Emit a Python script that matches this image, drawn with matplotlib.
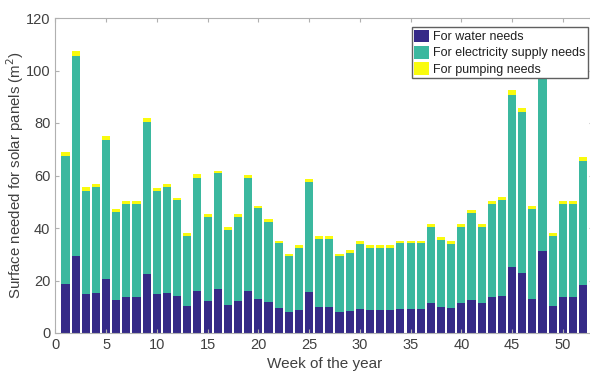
import numpy as np
import matplotlib
matplotlib.use("Agg")
import matplotlib.pyplot as plt

plt.rcParams['font.family'] = ['Liberation Sans', 'DejaVu Sans']

weeks = np.arange(1, 53)
# stacked tops
water_top = [18.6, 29.2, 14.9, 15.4, 20.5, 12.6, 13.7, 13.7, 22.4, 14.9,
             15.4, 14.0, 10.4, 16.0, 12.1, 16.7, 10.7, 12.1, 16.0, 13.0,
             11.7, 9.4, 8.0, 8.8, 15.8, 9.8, 9.8, 8.0, 8.5, 9.2,
             8.9, 8.9, 8.8, 9.3, 9.3, 9.3, 11.3, 9.8, 9.4, 11.3,
             12.6, 11.3, 13.6, 14.1, 25.1, 23.0, 13.0, 31.4, 10.3, 13.6,
             13.6, 18.3]
elec_top = [67.6, 105.6, 54.2, 55.5, 73.7, 46.0, 49.3, 49.3, 80.4, 54.1,
            55.5, 50.5, 37.1, 59.1, 44.2, 60.8, 39.2, 44.2, 59.1, 47.5,
            42.4, 34.1, 29.2, 32.4, 57.7, 35.9, 35.9, 29.2, 30.6, 34.0,
            32.5, 32.5, 32.4, 34.1, 34.1, 34.1, 40.5, 35.6, 34.0, 40.5,
            45.7, 40.5, 49.2, 50.7, 90.7, 84.1, 47.4, 112.0, 37.1, 49.2,
            49.2, 65.7]
pump_top = [68.9, 107.5, 55.5, 56.8, 75.2, 47.2, 50.2, 50.2, 82.0, 55.4,
            56.8, 51.5, 38.1, 60.4, 45.4, 61.9, 40.2, 45.4, 60.2, 48.5,
            43.6, 35.2, 30.1, 33.4, 58.8, 36.8, 36.8, 30.1, 31.6, 35.0,
            33.5, 33.5, 33.4, 35.2, 35.2, 35.2, 41.5, 36.6, 35.1, 41.5,
            46.7, 41.5, 50.2, 51.7, 92.5, 85.7, 48.5, 114.0, 38.1, 50.2,
            50.2, 67.0]

water = np.array(water_top)
electricity = np.array(elec_top) - water
pumping = np.array(pump_top) - np.array(elec_top)

c_blue = '#352a87'
c_teal = '#3bb89f'
c_yellow = '#f9fb0e'
txt = '#404040'

fig = plt.figure(figsize=(5.9, 3.72), dpi=100)
ax = fig.add_axes([55.3/590, 39/372, 538/590, 315/372])

ax.bar(weeks, water, 0.8, color=c_blue, label='For water needs')
ax.bar(weeks, electricity, 0.8, bottom=water, color=c_teal,
       label='For electricity supply needs')
ax.bar(weeks, pumping, 0.8, bottom=water + electricity, color=c_yellow,
       label='For pumping needs')

ax.set_xlim(0, 53)
ax.set_ylim(0, 120)
ax.set_xticks(np.arange(0, 55, 5))
ax.set_yticks(np.arange(0, 121, 20))
ax.tick_params(direction='in', top=True, right=True, length=3,
               colors='#b0b0b0', labelcolor=txt, labelsize=10.5)
for s in ax.spines.values():
    s.set_color('#b0b0b0')
    s.set_linewidth(0.8)

ax.set_xlabel('Week of the year', fontsize=11, color=txt, labelpad=4)
ax.set_ylabel('Surface needed for solar panels (m$^2$)', fontsize=10.8,
              color=txt)
ax.yaxis.set_label_coords(-0.054, 0.5)

leg = ax.legend(loc='upper right', bbox_to_anchor=(0.99, 0.971),
                borderaxespad=0, fontsize=9, fancybox=False, framealpha=1,
                edgecolor='#606060', handlelength=1.2, handleheight=1.2,
                handletextpad=0.3, labelspacing=0.2, borderpad=0.2)
for t in leg.get_texts():
    t.set_color('#202020')

fig.savefig('out.png', dpi=100)
